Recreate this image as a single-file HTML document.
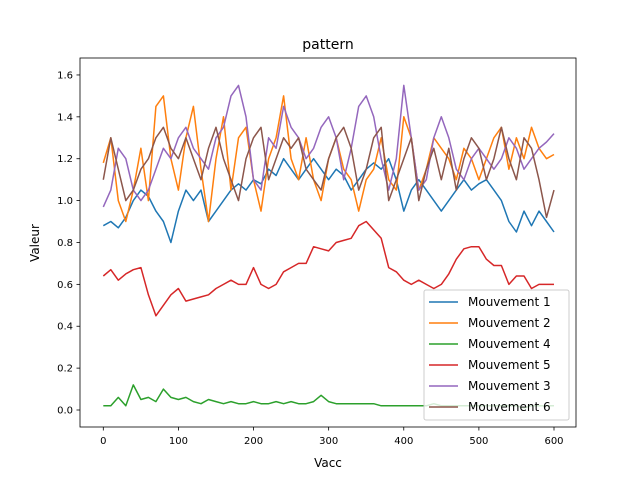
<!DOCTYPE html>
<html><head><meta charset="utf-8"><style>
body{margin:0;background:#fff}
svg text{font-family:"DejaVu Sans","Liberation Sans",sans-serif;fill:#000}
</style></head><body>
<svg id="chart" width="640" height="480" xmlns="http://www.w3.org/2000/svg">
<rect width="640" height="480" fill="#fff"/>
<text x="328" y="49" font-size="14" text-anchor="middle">pattern</text>
<text x="328" y="467" font-size="12" text-anchor="middle">Vacc</text>
<text x="39" y="243" font-size="12" text-anchor="middle" transform="rotate(-90 39 243)">Valeur</text>
<g id="plot"></g>
</svg>
<script>
const xs = [];
for (let i = 0; i <= 600; i += 10) xs.push(i);
const m1 = [0.88,0.9,0.87,0.92,1.0,1.05,1.02,0.95,0.9,0.8,0.95,1.05,1.0,1.05,0.9,0.95,1.0,1.05,1.08,1.05,1.1,1.08,1.15,1.12,1.2,1.15,1.1,1.15,1.2,1.15,1.1,1.15,1.12,1.05,1.1,1.15,1.18,1.15,1.2,1.1,0.95,1.05,1.1,1.05,1.0,0.95,1.0,1.05,1.1,1.05,1.08,1.1,1.05,1.0,0.9,0.85,0.95,0.88,0.95,0.9,0.85];
const m2 = [1.18,1.3,1.0,0.9,1.05,1.25,1.0,1.45,1.5,1.2,1.05,1.3,1.45,1.15,0.9,1.2,1.4,1.05,1.3,1.35,1.1,0.95,1.2,1.3,1.5,1.2,1.1,1.3,1.1,1.0,1.2,1.3,1.15,1.1,0.95,1.1,1.15,1.3,1.1,1.05,1.4,1.3,1.05,1.15,1.3,1.25,1.2,1.1,1.25,1.2,1.1,1.2,1.3,1.35,1.15,1.3,1.2,1.35,1.25,1.2,1.22];
const m4 = [0.02,0.02,0.06,0.02,0.12,0.05,0.06,0.04,0.1,0.06,0.05,0.06,0.04,0.03,0.05,0.04,0.03,0.04,0.03,0.03,0.04,0.03,0.03,0.04,0.03,0.04,0.03,0.03,0.04,0.07,0.04,0.03,0.03,0.03,0.03,0.03,0.03,0.02,0.02,0.02,0.02,0.02,0.02,0.02,0.03,0.02,0.02,0.02,0.02,0.02,0.02,0.02,0.02,0.02,0.02,0.02,0.01,0.02,0.02,0.02,0.02];
const m5 = [0.64,0.67,0.62,0.65,0.67,0.68,0.55,0.45,0.5,0.55,0.58,0.52,0.53,0.54,0.55,0.58,0.6,0.62,0.6,0.6,0.68,0.6,0.58,0.6,0.66,0.68,0.7,0.7,0.78,0.77,0.76,0.8,0.81,0.82,0.88,0.9,0.86,0.82,0.68,0.66,0.62,0.6,0.62,0.6,0.58,0.6,0.65,0.72,0.77,0.78,0.78,0.72,0.69,0.69,0.6,0.64,0.64,0.58,0.6,0.6,0.6];
const m3 = [0.97,1.05,1.25,1.2,1.05,1.0,1.05,1.15,1.25,1.2,1.3,1.35,1.25,1.2,1.15,1.3,1.35,1.5,1.55,1.4,1.1,1.05,1.3,1.25,1.45,1.35,1.3,1.2,1.25,1.35,1.4,1.3,1.1,1.25,1.45,1.5,1.4,1.2,1.05,1.2,1.55,1.3,1.05,1.1,1.3,1.4,1.3,1.15,1.1,1.2,1.25,1.2,1.15,1.2,1.3,1.25,1.15,1.2,1.25,1.28,1.32];
const m6 = [1.1,1.3,1.15,1.0,1.05,1.15,1.2,1.3,1.35,1.25,1.2,1.3,1.2,1.1,1.25,1.35,1.2,1.1,1.0,1.2,1.3,1.35,1.1,1.2,1.3,1.25,1.3,1.15,1.1,1.05,1.2,1.3,1.35,1.25,1.05,1.15,1.3,1.35,1.0,1.1,1.2,1.3,1.0,1.15,1.25,1.1,1.25,1.05,1.2,1.3,1.25,1.1,1.2,1.35,1.2,1.1,1.3,1.25,1.1,0.92,1.05];
const seriesNames = ["Mouvement 1","Mouvement 2","Mouvement 4","Mouvement 5","Mouvement 3","Mouvement 6"];
const xTicks = [0,100,200,300,400,500,600];
const yTicks = [0.0,0.2,0.4,0.6,0.8,1.0,1.2,1.4,1.6];

const NS = "http://www.w3.org/2000/svg";
const L = 80, R = 576, T = 58, B = 427;
const xScale = v => 103.3 + v * (554 - 103.3) / 600;
const yScale = v => 410 - v * 209.4;
const g = document.getElementById('plot');
function mk(tag, attrs, parent) {
  const e = document.createElementNS(NS, tag);
  for (const k in attrs) e.setAttribute(k, attrs[k]);
  (parent || g).appendChild(e);
  return e;
}
const colors = ["#1f77b4","#ff7f0e","#2ca02c","#d62728","#9467bd","#8c564b"];
const data = [m1, m2, m4, m5, m3, m6];
data.forEach((arr, si) => {
  const d = arr.map((v, i) => (i ? 'L' : 'M') + xScale(xs[i]).toFixed(1) + ',' + yScale(v).toFixed(1)).join('');
  const p = mk('path', {d: d, fill: 'none', stroke: colors[si], 'stroke-width': 1.5, 'stroke-linejoin': 'round'});
  
  
});
const frame = mk('rect', {x: L, y: T, width: R - L, height: B - T, fill: 'none', stroke: '#000', 'stroke-width': 0.8});


xTicks.forEach(t => {
  const x = xScale(t);
  const tk = mk('line', {x1: x, x2: x, y1: B, y2: B + 3.5, stroke: '#000', 'stroke-width': 0.8});
  
  
  const tx = mk('text', {x: x, y: B + 17, 'font-size': 10, 'text-anchor': 'middle'});
  
  
  tx.textContent = t;
});
yTicks.forEach(t => {
  const y = yScale(t);
  const tk = mk('line', {x1: L - 3.5, x2: L, y1: y, y2: y, stroke: '#000', 'stroke-width': 0.8});
  
  
  const tx = mk('text', {x: L - 7, y: y + 3.5, 'font-size': 10, 'text-anchor': 'end'});
  
  
  tx.textContent = t.toFixed(1);
});
const lg = mk('g', {});


const lb = mk('rect', {x: 424, y: 290, width: 145, height: 130, rx: 2, fill: '#fff', 'fill-opacity': 0.8, stroke: '#ccc'}, lg);


seriesNames.forEach((n, i) => {
  const y = 302 + i * 21;
  const ln = mk('line', {x1: 429, x2: 458, y1: y, y2: y, stroke: colors[i], 'stroke-width': 1.5}, lg);
  
  
  const tx = mk('text', {x: 468, y: y + 4, 'font-size': 12}, lg);
  
  
  tx.textContent = n;
});
</script>
</body></html>
